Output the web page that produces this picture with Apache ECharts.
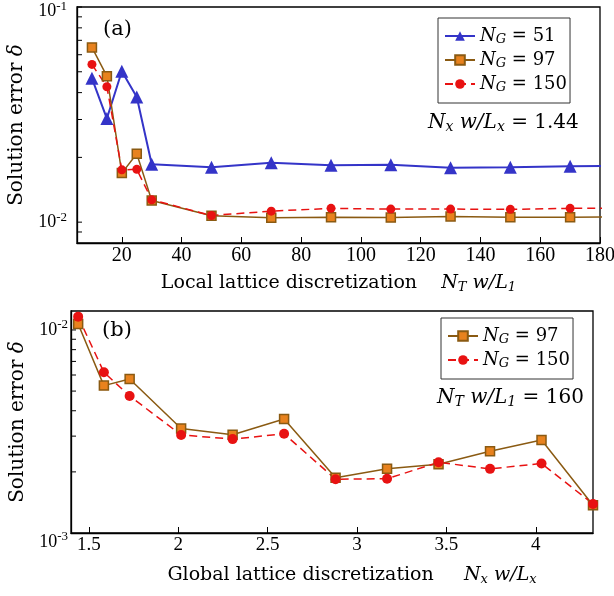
<!DOCTYPE html>
<html>
<head>
<meta charset="utf-8">
<script src="https://cdn.jsdelivr.net/npm/echarts@6/dist/echarts.min.js"></script>
<style>html,body{margin:0;padding:0;background:#fff}#c{width:614px;height:596px}</style>
</head>
<body>
<div id="c"></div>
<script>
// ---- Panel (a) data ----
var xA = [10, 15, 20, 25, 30, 50, 70, 90, 110, 130, 150, 170, 190];
var a_NG51 = [0.0466, 0.0303, 0.0503, 0.0382, 0.0186, 0.0180, 0.0189, 0.0184, 0.0185, 0.0179, 0.0180, 0.0182, 0.0183];
var a_NG97 = [0.0649, 0.0477, 0.0169, 0.0208, 0.0126, 0.01071, 0.01048, 0.01055, 0.0105, 0.01063, 0.01055, 0.01055, 0.0106];
var a_NG150 = [0.0541, 0.0426, 0.0175, 0.0176, 0.0127, 0.01074, 0.01125, 0.01159, 0.0115, 0.0115, 0.01147, 0.01159, 0.0116];
var xA_ticks = [20, 40, 60, 80, 100, 120, 140, 160, 180];
var yA_labels = [0.01, 0.1];
var yA_ticks = [0.009, 0.01, 0.02, 0.03, 0.04, 0.05, 0.06, 0.07, 0.08, 0.09, 0.1];

// ---- Panel (b) data ----
var xB = [1.44, 1.584, 1.728, 2.016, 2.304, 2.592, 2.88, 3.168, 3.456, 3.744, 4.032, 4.32];
var b_NG97 = [0.0107, 0.00532, 0.00574, 0.00327, 0.00305, 0.00364, 0.00187, 0.00207, 0.00218, 0.00253, 0.00287, 0.00137];
var b_NG150 = [0.01163, 0.00619, 0.00473, 0.00304, 0.00290, 0.00308, 0.00184, 0.00185, 0.00223, 0.00207, 0.00220, 0.00139];
var xB_ticks = [1.5, 2, 2.5, 3, 3.5, 4];
var yB_labels = [0.001, 0.01];
var yB_ticks = [0.002, 0.003, 0.004, 0.005, 0.006, 0.007, 0.008, 0.009, 0.01];

var SERIF = 'Liberation Serif';
var MATH = 'DejaVu Serif';
var BLUE = '#3434c8', BROWN = '#8a5a12', ORANGE = '#e8821e', RED = '#e81212';
var XA_MIN = 5, XA_MAX = 180, XB_MIN = 1.4, XB_MAX = 4.32;

function pairs(xs, ys) { return xs.map(function (x, i) { return [x, ys[i]]; }); }
// label style variants (downward nudges for the edge labels)
function expLabel(v) {
  var e = Math.round(Math.log10(v));
  var k = e === -1 ? 'A' : (e === -3 ? 'C' : 'N');
  return '{b' + k + '|10}{s' + k + '|' + e + '}';
}
function tickRich() {
  var r = {};
  var shifts = { N: 0, A: 9, C: 18 };
  Object.keys(shifts).forEach(function (k) {
    var p = shifts[k];
    r['b' + k] = { fontFamily: SERIF, fontSize: 18, color: '#000', padding: [p, 0, 0, 0] };
    r['s' + k] = { fontFamily: SERIF, fontSize: 13, color: '#000', verticalAlign: 'top', padding: [p, 0, 10, 0] };
  });
  return r;
}
var richTick = tickRich();
function mathRich(fs) {
  return {
    i: { fontFamily: MATH, fontStyle: 'italic', fontSize: fs, color: '#000' },
    sub: { fontFamily: MATH, fontStyle: 'italic', fontSize: Math.round(fs * 0.7), color: '#000', padding: [Math.round(fs * 0.4), 0, 0, 0] },
    r: { fontFamily: MATH, fontSize: fs, color: '#000' }
  };
}
var richLegend = mathRich(18);
var richNote = mathRich(20);
var richName = mathRich(19);
var richY = mathRich(20);
var legendNames = {
  'NG51': '{i|N}{sub|G}{r| = 51}',
  'NG97': '{i|N}{sub|G}{r| = 97}',
  'NG150': '{i|N}{sub|G}{r| = 150}'
};
function xAxisBase(idx, min, max, ticks, name, gap, fs, pad) {
  return {
    type: 'value', gridIndex: idx, min: min, max: max,
    axisLine: { show: true, onZero: false, lineStyle: { color: '#000', width: 1.3 } },
    axisTick: { show: true, inside: true, length: 6, customValues: ticks, lineStyle: { color: '#000' } },
    axisLabel: { customValues: ticks, color: '#000', fontFamily: SERIF, fontSize: fs, margin: 3, formatter: function (v) { return String(v); } },
    splitLine: { show: false },
    name: name, nameLocation: 'middle', nameGap: gap,
    nameTextStyle: { rich: richName, padding: pad }
  };
}
function yAxisBase(idx, min, max, labels, gap, margin) {
  return {
    type: 'log', gridIndex: idx, min: min, max: max, logBase: 10,
    axisLine: { show: true, lineStyle: { color: '#000', width: 1.3 } },
    axisTick: { show: false },
    axisLabel: { customValues: labels, formatter: expLabel, rich: richTick, margin: margin },
    splitLine: { show: false },
    name: '{r|Solution error }{i|δ}', nameLocation: 'middle', nameGap: gap,
    nameTextStyle: { rich: richY }
  };
}
// y-axis ticks drawn on the log scale through api.coord
function tickSeries(xi, xmin, vals) {
  return {
    type: 'custom', xAxisIndex: xi, yAxisIndex: xi, silent: true, clip: false, z: 5,
    data: vals.map(function (v) { return [xmin, v]; }),
    renderItem: function (params, api) {
      var p = api.coord([api.value(0), api.value(1)]);
      return { type: 'line', shape: { x1: p[0], y1: p[1], x2: p[0] + 5, y2: p[1] }, style: { stroke: '#000', lineWidth: 1 } };
    }
  };
}

var chart = echarts.init(document.getElementById('c'), null, { renderer: 'canvas' });
chart.setOption({
  animation: false,
  backgroundColor: '#fff',
  grid: [
    { left: 77, right: 14, top: 7, height: 236, show: true, borderColor: '#000', borderWidth: 1.3, containLabel: false, outerBoundsMode: 'none' },
    { left: 71, right: 21, top: 311, height: 222, show: true, borderColor: '#000', borderWidth: 1.3, containLabel: false, outerBoundsMode: 'none' }
  ],
  xAxis: [
    xAxisBase(0, XA_MIN, XA_MAX, xA_ticks, '{r|Local lattice discretization    }{i|N}{sub|T}{i| w/L}{sub|1}', 30, 20, [0, 0, 0, 0]),
    xAxisBase(1, XB_MIN, XB_MAX, xB_ticks, '{r|Global lattice discretization     }{i|N}{sub|x}{i| w/L}{sub|x}', 32, 19, [0, 0, 0, 40])
  ],
  yAxis: [
    yAxisBase(0, 0.008, 0.1, yA_labels, 36, 10),
    yAxisBase(1, 0.001, 0.0124, yB_labels, 31, 3)
  ],
  legend: [
    {
      data: ['NG51', 'NG97', 'NG150'], orient: 'vertical', left: 438, top: 18,
      padding: [7, 3, 8, 6], itemGap: 2, itemWidth: 30, itemHeight: 12,
      borderColor: '#333', borderWidth: 1, backgroundColor: '#fff',
      formatter: function (n) { return legendNames[n]; },
      textStyle: { rich: richLegend, lineHeight: 22 }
    },
    {
      data: ['NG97b', 'NG150b'], orient: 'vertical', left: 441, top: 318,
      padding: [7, 3, 8, 6], itemGap: 2, itemWidth: 30, itemHeight: 12,
      borderColor: '#333', borderWidth: 1, backgroundColor: '#fff',
      formatter: function (n) { return legendNames[n.replace('b', '')]; },
      textStyle: { rich: richLegend, lineHeight: 22 }
    }
  ],
  series: [
    {
      name: 'NG51', type: 'line', xAxisIndex: 0, yAxisIndex: 0, data: pairs(xA, a_NG51),
      symbol: 'triangle', symbolSize: 13, clip: true,
      lineStyle: { color: BLUE, width: 2 }, itemStyle: { color: BLUE }
    },
    {
      name: 'NG97', type: 'line', xAxisIndex: 0, yAxisIndex: 0, data: pairs(xA, a_NG97),
      symbol: 'rect', symbolSize: 9, clip: true,
      lineStyle: { color: BROWN, width: 1.5 }, itemStyle: { color: ORANGE, borderColor: BROWN, borderWidth: 1.5 }
    },
    {
      name: 'NG150', type: 'line', xAxisIndex: 0, yAxisIndex: 0, data: pairs(xA, a_NG150),
      symbol: 'circle', symbolSize: 9, clip: true,
      lineStyle: { color: RED, width: 1.5, type: [8, 5] }, itemStyle: { color: RED }
    },
    {
      name: 'NG97b', type: 'line', xAxisIndex: 1, yAxisIndex: 1, data: pairs(xB, b_NG97),
      symbol: 'rect', symbolSize: 9, clip: false,
      lineStyle: { color: BROWN, width: 1.5 }, itemStyle: { color: ORANGE, borderColor: BROWN, borderWidth: 1.5 }
    },
    {
      name: 'NG150b', type: 'line', xAxisIndex: 1, yAxisIndex: 1, data: pairs(xB, b_NG150),
      symbol: 'circle', symbolSize: 10, clip: false,
      lineStyle: { color: RED, width: 1.5, type: [8, 5] }, itemStyle: { color: RED }
    },
    tickSeries(0, XA_MIN, yA_ticks),
    tickSeries(1, XB_MIN, yB_ticks)
  ],
  graphic: [
    { type: 'text', left: 103, top: 19, style: { text: '(a)', font: '21px "DejaVu Serif"', fill: '#000' } },
    { type: 'text', left: 102, top: 320, style: { text: '(b)', font: '21px "DejaVu Serif"', fill: '#000' } },
    { type: 'text', left: 428, top: 113, style: { text: '{i|N}{sub|x}{i| w/L}{sub|x}{r| = 1.44}', rich: richNote } },
    { type: 'text', left: 437, top: 388, style: { text: '{i|N}{sub|T}{i| w/L}{sub|1}{r| = 160}', rich: richNote } }
  ]
});
</script>
</body>
</html>
